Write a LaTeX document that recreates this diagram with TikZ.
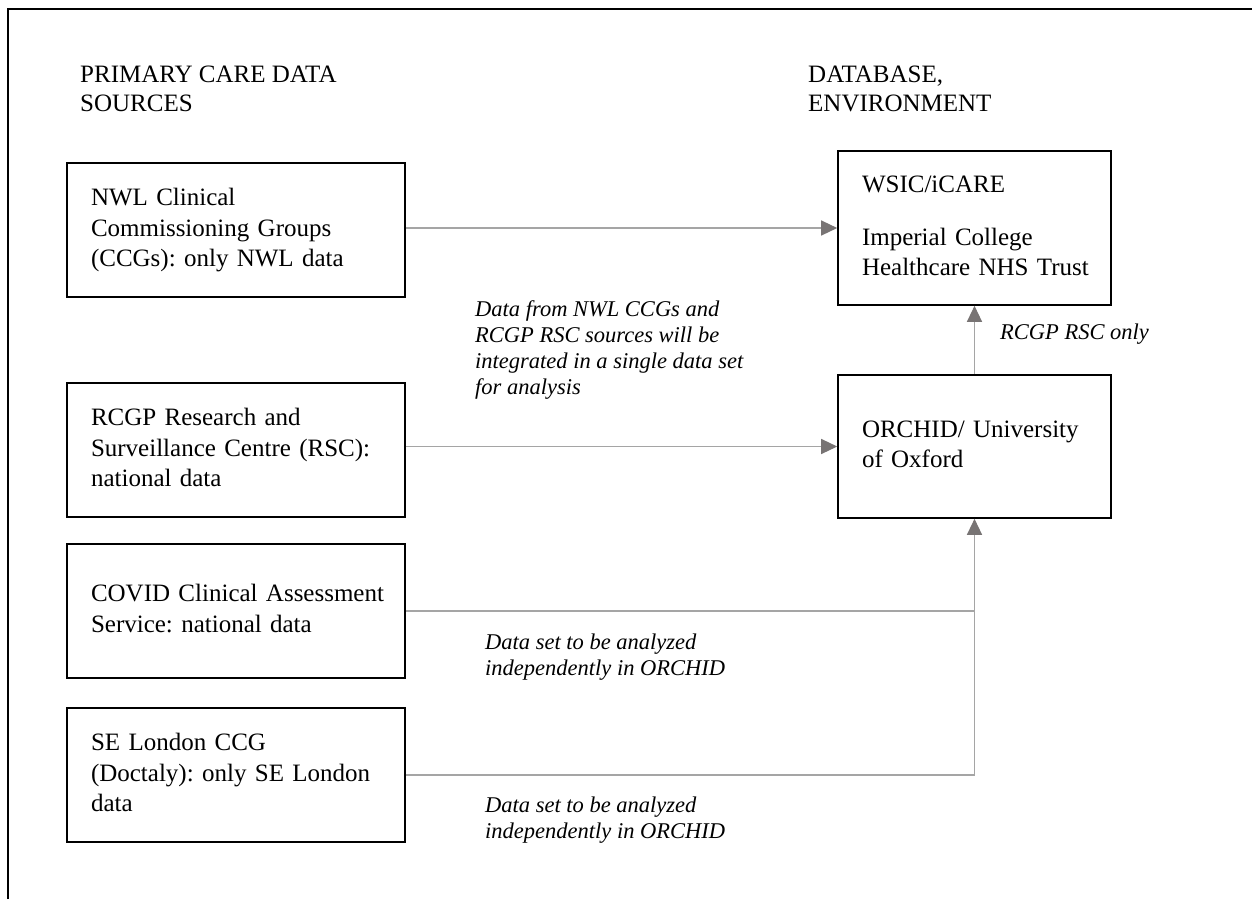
\documentclass[tikz,border=0pt]{standalone}
\usepackage{fontspec}
\setmainfont{Liberation Serif}
\usetikzlibrary{arrows.meta,positioning}
\definecolor{linegray}{RGB}{165,165,165}
\definecolor{tipgray}{RGB}{120,116,116}
\newcommand{\boxlines}[1]{\begin{tabular}{@{}l@{}}#1\end{tabular}}
\frenchspacing

\begin{document}
\begin{tikzpicture}[x=1pt, y=-1pt,
  srcbox/.style={draw, line width=1.6pt, align=left, inner xsep=24pt,
    text width=290pt, minimum height=134pt,
    font=\fontsize{25}{30.5}\selectfont},
  dbbox/.style={srcbox, text width=225pt},
  heading/.style={align=left, inner sep=0pt, anchor=north west,
    font=\fontsize{25}{29}\selectfont},
  note/.style={align=left, inner sep=0pt, anchor=north west,
    font=\fontsize{22.5}{26}\selectfont\itshape},
  conn/.style={draw=linegray, line width=1.3pt},
  feed/.style={conn, -{Triangle[length=16pt, width=15pt, color=tipgray]}},
]
  \useasboundingbox (0,0) rectangle (1252,899);
  % frame
  \draw[line width=1.6pt] (8,899) -- (8,9) -- (1252,9);

  % column headings
  \node[heading] (srchead) at (80,66) {PRIMARY CARE DATA\\SOURCES};
  \node[heading] (dbhead) at (808,66) {DATABASE,\\ENVIRONMENT};

  % primary care sources
  \node[srcbox] (nwl) at (236,230)
    {\boxlines{NWL Clinical\\Commissioning Groups\\(CCGs): only NWL data}};
  \node[srcbox] (rcgp) at (236,450)
    {\boxlines{RCGP Research and\\Surveillance Centre (RSC):\\national data}};
  \node[srcbox] (covid) at (236,611)
    {\boxlines{COVID Clinical Assessment\\Service: national data}};
  \node[srcbox] (selon) at (236,775)
    {\boxlines{SE London CCG\\(Doctaly): only SE London\\data}};

  % databases
  \node[dbbox, minimum height=154pt] (wsic) at (974.5,228)
    {\boxlines{WSIC/iCARE\\[22pt]Imperial College\\Healthcare NHS Trust}};
  \node[dbbox, minimum height=143pt] (orchid) at (974.5,446.5)
    {\boxlines{ORCHID/ University\\of Oxford}};

  % connectors
  \draw[feed] (nwl.east |- wsic.west) -- (wsic.west);
  \draw[feed] (rcgp.east |- orchid.west) -- (orchid.west);
  \draw[feed] (orchid.north) -- (wsic.south);
  \draw[conn] (covid.east) -- (covid.east -| orchid.south);
  \draw[feed] (selon.east) -| (orchid.south);

  % notes
  \node[note] (mergenote) at (475,300)
    {Data from NWL CCGs and\\RCGP RSC sources will be\\integrated in a single data set\\for analysis};
  \node[note] (rscnote) at (1000,324) {RCGP RSC only};
  \node[note] (covidnote) at (485,634)
    {Data set to be analyzed\\independently in ORCHID};
  \node[note] (selonnote) at (485,797)
    {Data set to be analyzed\\independently in ORCHID};
\end{tikzpicture}
\end{document}
